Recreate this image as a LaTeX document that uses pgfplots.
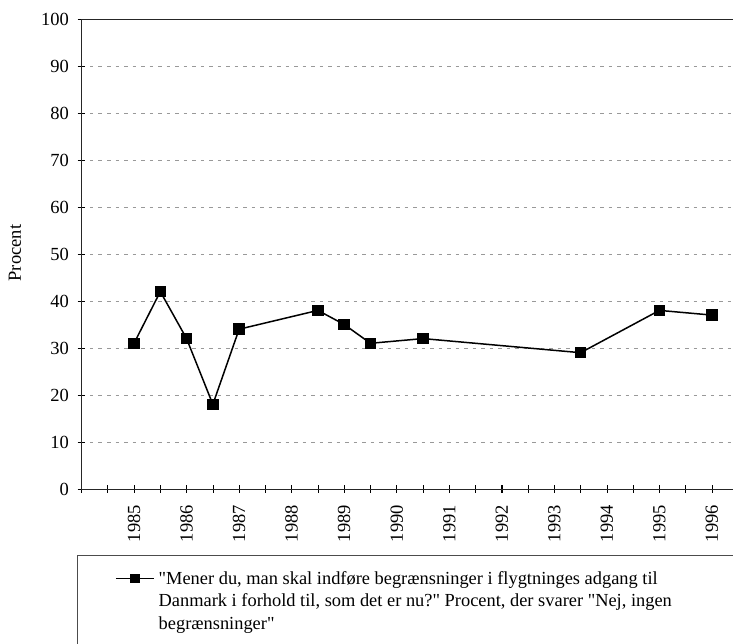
\documentclass[border=0pt]{standalone}
\usepackage{fontspec}
\setmainfont{Liberation Serif}[Ligatures=TeXOff]
\usepackage{pgfplots}
\pgfplotsset{compat=1.18}
\begin{document}
\begin{tikzpicture}[x=1pt,y=1pt]
\useasboundingbox (0,0) rectangle (733,644);
\begin{axis}[
  at={(81.5pt,155pt)}, anchor=south west,
  scale only axis, width=662pt, height=470pt,
  xmin=1984, xmax=1996.6, ymin=0, ymax=100,
  xtick={1985,...,1996},
  minor xtick={1984,1984.5,...,1996.5},
  ytick={0,10,...,100},
  tick pos=left,
  tick align=center,
  major tick length=8pt, minor tick length=8pt,
  tick style={black, line width=0.6pt},
  /pgf/number format/assume math mode=true,
  xticklabel style={/pgf/number format/1000 sep={}, rotate=90, anchor=east, inner sep=1pt, font=\fontsize{18.5}{22}\selectfont, xshift=-11pt},
  yticklabel style={font=\fontsize{18.5}{22}\selectfont, xshift=-5pt},
  ymajorgrids,
  major grid style={dash pattern=on 3.5pt off 5pt, gray!80, line width=0.7pt},
  axis line style={black!85, line width=0.8pt},
  ylabel={Procent},
  ylabel style={at={(axis description cs:-0.1007,0.502)}, anchor=center, font=\fontsize{18.5}{22}\selectfont},
  legend style={at={(axis description cs:-0.0068,-0.1404)}, anchor=north west,
    draw=black!70, line width=0.6pt, inner xsep=38pt, inner ysep=14pt,
    font=\fontsize{18.4}{22.5}\selectfont},
  legend cell align=left,
  legend image code/.code={\path[draw=none,fill=none] (0pt,-27pt) -- (0pt,27pt);
    \draw[mark repeat=2,mark phase=2,#1,mark size=4pt,line width=1.4pt] plot coordinates {(0pt,22.5pt) (19pt,22.5pt) (38pt,22.5pt)};},
]
\addplot[black, line width=1.5pt, mark=square*, mark size=5pt, mark options={solid}] coordinates {
(1985,31)(1985.5,42)(1986,32)(1986.5,18)(1987,34)(1988.5,38)(1989,35)(1989.5,31)(1990.5,32)(1993.5,29)(1995,38)(1996,37)};
\addlegendentry{\parbox[b]{600pt}{\raggedright\hspace{2pt}"Mener du, man skal indføre begrænsninger i flygtninges adgang til\\\hspace*{2pt}Danmark i forhold til, som det er nu?" Procent, der svarer "Nej, ingen\\\hspace*{2pt}begrænsninger"}}
\end{axis}
\end{tikzpicture}
\end{document}
